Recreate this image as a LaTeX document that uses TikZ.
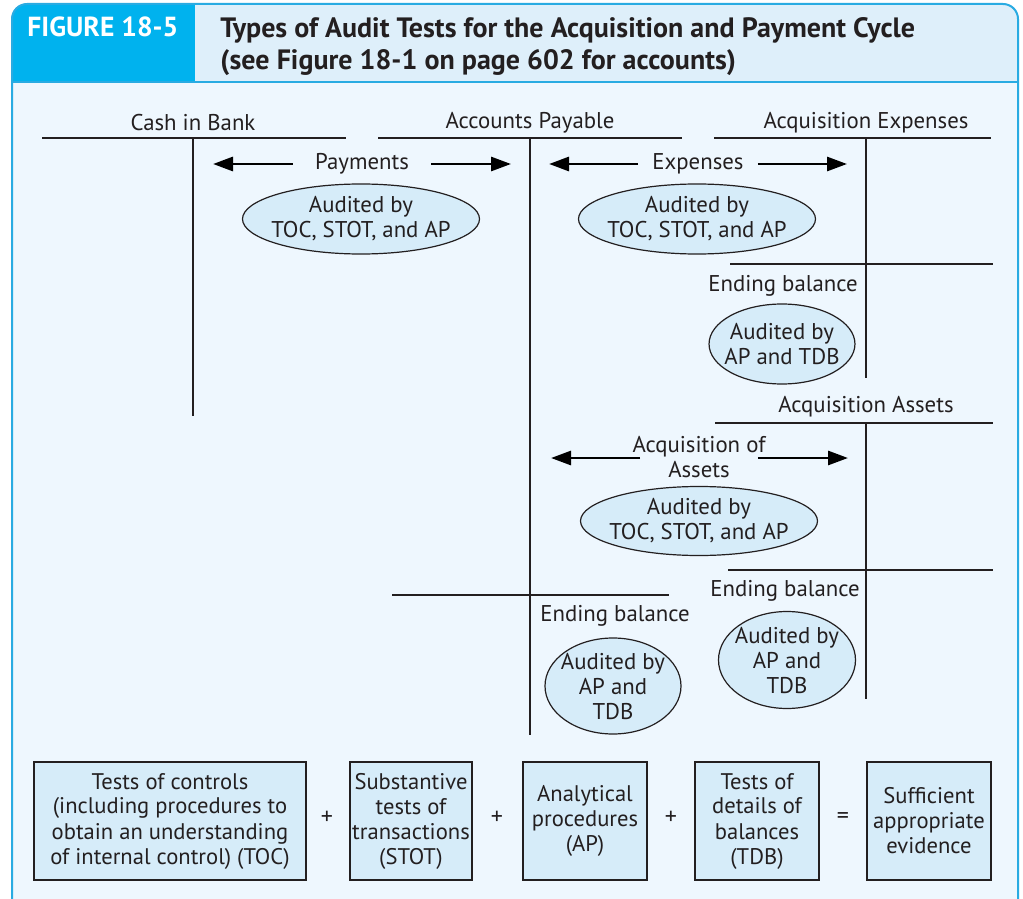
\documentclass[tikz,border=0pt]{standalone}
\usepackage{fontspec}
\setmainfont{PT Sans}
\usetikzlibrary{positioning,shapes.geometric,arrows.meta}

\definecolor{tabblue}{RGB}{0,178,238}
\definecolor{framebl}{RGB}{41,171,226}
\definecolor{headbg}{RGB}{222,239,250}
\definecolor{bodybg}{RGB}{238,247,254}
\definecolor{cellbg}{RGB}{214,236,249}
\definecolor{ink}{RGB}{35,31,32}

\begin{document}
\begin{tikzpicture}[x=0.5pt,y=-0.5pt]
  % styles
  \tikzset{
    lbl/.style={font=\fontsize{11.4}{12.5}\selectfont, text=ink, inner sep=0pt, align=center},
    tl/.style={draw=ink, line width=0.6pt},
    oval/.style={ellipse, draw=ink, fill=cellbg, line width=0.6pt, inner xsep=-3pt, inner ysep=-1.5pt,
      align=center, font=\fontsize{11.4}{12.5}\selectfont, text=ink},
    flow/.style={draw=black, line width=1.4pt, -{Triangle[length=10pt,width=7pt]}},
    testbox/.style={rectangle, draw=ink, fill=cellbg, line width=0.6pt, inner sep=0pt, align=center,
      minimum height=59pt, font=\fontsize{11.3}{12.5}\selectfont, text=ink},
    op/.style={font=\fontsize{12}{12}\selectfont, text=ink, inner sep=0pt}
  }
  \useasboundingbox (0,0) rectangle (1023,899);

  % frame and header
  \begin{scope}
    \clip[rounded corners=7.5pt] (12,930) -- (12,4) -- (1018,4) -- (1018,930) -- cycle;
    \fill[bodybg] (12,4) rectangle (1018,930);
    \fill[headbg] (12,4) rectangle (1018,82);
    \fill[tabblue] (12,4) rectangle (195,82);
  \end{scope}
  \draw[framebl, line width=0.6pt] (12,82) -- (1018,82);
  \draw[framebl, line width=1pt, rounded corners=7.5pt] (12,930) -- (12,4) -- (1018,4) -- (1018,930);

  \node[anchor=base west, inner sep=0pt, text=white, font=\fontsize{13.8}{16}\bfseries] (fig) at (27,37) {FIGURE 18-5};
  \node[anchor=west, inner sep=0pt, text=ink, align=left, font=\fontsize{14}{16}\bfseries] (title) at (220,47)
    {Types of Audit Tests for the Acquisition and Payment Cycle\\(see Figure 18-1 on page 602 for accounts)};

  % T-accounts
  \node[lbl] (cash) at (193,123) {Cash in Bank};
  \node[lbl] (ap) at (530,123) {Accounts Payable};
  \node[lbl] (ae) at (866,123) {Acquisition Expenses};
  \node[lbl] (aa) at (866,407) {Acquisition Assets};

  \draw[tl] (42,138) -- (346,138);    % cash in bank
  \draw[tl] (193,138) -- (193,416);
  \draw[tl] (378,138) -- (682,138);   % accounts payable
  \draw[tl] (530,138) -- (530,735);
  \draw[tl] (392,595) -- (669,595);
  \draw[tl] (714,138) -- (991,138);   % acquisition expenses
  \draw[tl] (866,138) -- (866,378);
  \draw[tl] (730,264) -- (993,264);
  \draw[tl] (715,423) -- (993,423);   % acquisition assets
  \draw[tl] (866,423) -- (866,699);
  \draw[tl] (728,570) -- (993,570);

  % flows
  \node[lbl, inner xsep=11pt] (pay) at (362,164) {Payments};
  \coordinate (payL) at (213,164);
  \coordinate (payR) at (511,164);
  \draw[flow] (pay) -- (payL);
  \draw[flow] (pay) -- (payR);

  \node[lbl, inner xsep=7pt] (exp) at (698,164) {Expenses};
  \coordinate (expL) at (549,164);
  \coordinate (expR) at (847,164);
  \draw[flow] (exp) -- (expL);
  \draw[flow] (exp) -- (expR);

  \node[lbl] (acq) at (699,457) {Acquisition of\\Assets};
  \coordinate (acqL) at (551,458);
  \coordinate (acqR) at (848,458);
  \draw[flow] ([xshift=4pt]acq.west |- acqL) -- (acqL);
  \draw[flow] ([xshift=-4pt]acq.east |- acqR) -- (acqR);

  % ovals
  \node[oval, minimum width=118.5pt, minimum height=35pt] (payA) at (361,219) {Audited by\\TOC, STOT, and AP};
  \node[oval, minimum width=118.5pt, minimum height=35pt] (expA) at (697,219) {Audited by\\TOC, STOT, and AP};
  \node[oval, minimum width=118.5pt, minimum height=34.5pt] (acqA) at (699,521) {Audited by\\TOC, STOT, and AP};

  \node[lbl] (aeEnd) at (783,286) {Ending balance};
  \node[oval, minimum width=70pt, minimum height=40pt] (aeA) at (782,344) {Audited by\\AP and TDB};
  \node[lbl] (aaEnd) at (785,591) {Ending balance};
  \node[oval, minimum width=68.5pt, minimum height=48.5pt] (aaA) at (787,660) {Audited by\\AP and\\TDB};
  \node[lbl] (apEnd) at (615,616) {Ending balance};
  \node[oval, minimum width=68pt, minimum height=48pt] (apA) at (613,686) {Audited by\\AP and\\TDB};

  % tests
  \node[testbox, minimum width=136pt] (toc) at (170,821)
    {Tests of controls\\(including procedures to\\obtain an understanding\\of internal control) (TOC)};
  \node[testbox, minimum width=61pt] (stot) at (411,821) {Substantive\\tests of\\transactions\\(STOT)};
  \node[testbox, minimum width=62pt] (anp) at (585,821) {Analytical\\procedures\\(AP)};
  \node[testbox, minimum width=62pt] (tdb) at (757,821) {Tests of\\details of\\balances\\(TDB)};
  \node[testbox, minimum width=62pt] (ev) at (929,821) {Sufficient\\appropriate\\evidence};

  \node[op] (p1) at (327,818) {+};
  \node[op] (p2) at (497,818) {+};
  \node[op] (p3) at (671,818) {+};
  \node[op] (eq) at (843,818) {=};
\end{tikzpicture}
\end{document}
